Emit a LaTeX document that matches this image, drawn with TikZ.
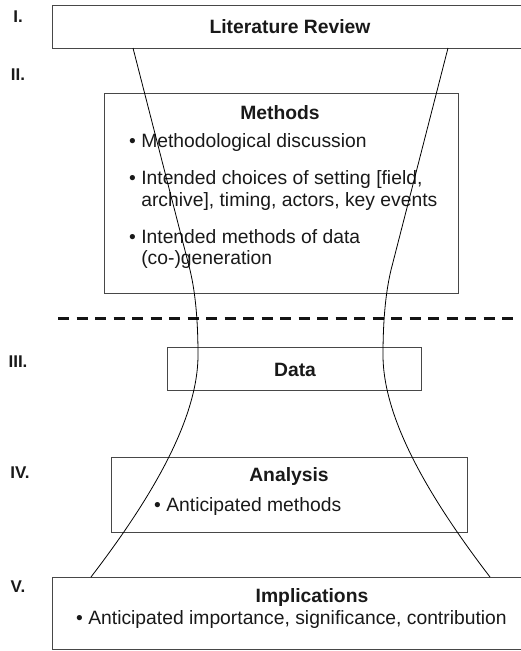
\documentclass[tikz,border=0pt]{standalone}
\usepackage{fontspec}
\setmainfont{Liberation Sans}
\begin{document}
\begin{tikzpicture}[x=1pt,y=-1pt,
  frame/.style={draw=black!72, line width=1pt, inner sep=0pt, fill=none},
  stage/.style={font=\fontsize{17}{20}\selectfont\bfseries, text=black!90, inner sep=0pt},
  head/.style={font=\fontsize{19.3}{22}\selectfont\bfseries, text=black!90, inner sep=0pt},
  item/.style={font=\fontsize{19.3}{22}\selectfont, text=black!90, inner sep=0pt, anchor=west},
  funnel/.style={draw=black, line width=0.8pt},
  divider/.style={draw=black!92, line width=3pt, dash pattern=on 11pt off 7.5pt}
]
\useasboundingbox (0,0) rectangle (520,651);

% stage frames
\node[frame, minimum width=478pt, minimum height=43pt] (lit) at (291,26.5) {};
\node[frame, minimum width=354pt, minimum height=200pt] (meth) at (281,193) {};
\node[frame, minimum width=254pt, minimum height=43pt] (data) at (294,368.5) {};
\node[frame, minimum width=356pt, minimum height=75pt] (anal) at (289,494.5) {};
\node[frame, minimum width=478pt, minimum height=72pt] (impl) at (291,613) {};

% stage numbers
\node[stage] (s1) at (18,17) {I.};
\node[stage] (s2) at (18,75) {II.};
\node[stage] (s3) at (18,362) {III.};
\node[stage] (s4) at (20,473) {IV.};
\node[stage] (s5) at (18,587) {V.};

% headings
\node[head] (tlit) at (290,27) {Literature Review};
\node[head] (tmeth) at (280,113) {Methods};
\node[head] (tdata) at (295,370) {Data};
\node[head] (tanal) at (289,477) {Analysis};
\node[head] (timpl) at (312,598) {Implications};

% bullet items
\node[item] (m1) at (129,143) {• Methodological discussion};
\node[item] (m2) at (129,180) {• Intended choices of setting [field,};
\node[item] (m2b) at (129,202) {\phantom{• }archive], timing, actors, key events};
\node[item] (m3) at (129,237) {• Intended methods of data};
\node[item] (m3b) at (129,260) {\phantom{• }(co-)generation};
\node[item] (a1) at (154,507) {• Anticipated methods};
\node[item] (i1) at (76,620) {• Anticipated importance, significance, contribution};

% dashed divider between planning and doing
\coordinate (dl) at (58,318);
\coordinate (dr) at (520,318);
\draw[divider] (dl) -- (dr);

% funnel outline from literature review to implications
\coordinate (ltop) at (133,48);
\coordinate (lbot) at (91,577);
\coordinate (rtop) at (448,48);
\coordinate (rbot) at (490,577);
\draw[funnel] (ltop) -- (190,270)
  .. controls (196,295) and (198,325) .. (198,355)
  .. controls (198,420) and (150,500) .. (lbot);
\draw[funnel] (rtop) -- (391,270)
  .. controls (385,295) and (383,325) .. (383,355)
  .. controls (383,420) and (431,500) .. (rbot);
\end{tikzpicture}
\end{document}
